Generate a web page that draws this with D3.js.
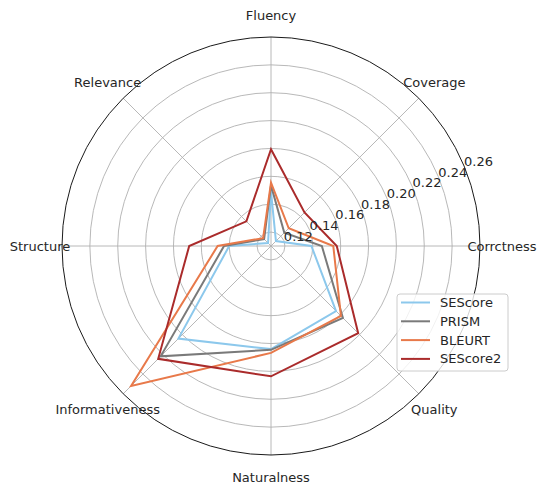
<!DOCTYPE html>
<html>
<head>
<meta charset="utf-8">
<script src="https://cdn.jsdelivr.net/npm/d3@7"></script>
<style>
  html, body { margin: 0; padding: 0; background: #fff; }
  svg { display: block; font-family: "DejaVu Sans", sans-serif; }
</style>
</head>
<body>
<div id="chart"></div>
<script>
(function () {
  'use strict';

  // Data
  var categories = ['Fluency', 'Coverage', 'Corrctness', 'Quality', 'Naturalness', 'Informativeness', 'Structure', 'Relevance'];
  var seriesNames = ['SEScore', 'PRISM', 'BLEURT', 'SEScore2'];
  var seScore  = [0.149, 0.115, 0.139, 0.176, 0.184, 0.204, 0.140, 0.113];
  var prism    = [0.1535, 0.1235, 0.1465, 0.183, 0.1845, 0.222, 0.1437, 0.117];
  var bleurt   = [0.1555, 0.128, 0.1547, 0.181, 0.1867, 0.252, 0.1483, 0.118];
  var seScore2 = [0.1795, 0.144, 0.1572, 0.1985, 0.2035, 0.2245, 0.1687, 0.135];
  var radialTicks = [0.12, 0.14, 0.16, 0.18, 0.20, 0.22, 0.24, 0.26];

  var seriesValues = [seScore, prism, bleurt, seScore2];
  var colors = ['#8cc8ec', '#7a7a7a', '#e8794a', '#aa2b2b'];

  var width = 540, height = 483;
  var cx = 271, cy = 246, R = 209;
  var fontSize = '13px';

  var svg = d3.select('#chart').append('svg')
    .attr('width', width)
    .attr('height', height);

  var g = svg.append('g').attr('transform', 'translate(' + cx + ',' + cy + ')');

  var r = d3.scaleLinear().domain([0.11, 0.26]).range([0, R]);
  var step = 2 * Math.PI / categories.length;
  function angle(i) { return i * step; } // 0 = top, clockwise

  // Grid circles (outer one is the spine)
  g.append('g').selectAll('circle')
    .data(radialTicks.slice(0, -1))
    .join('circle')
    .attr('r', function (d) { return r(d); })
    .attr('fill', 'none')
    .attr('stroke', '#b0b0b0')
    .attr('stroke-width', 0.9);

  // Spokes
  g.append('g').selectAll('line')
    .data(categories)
    .join('line')
    .attr('x1', 0).attr('y1', 0)
    .attr('x2', function (d, i) { return R * Math.sin(angle(i)); })
    .attr('y2', function (d, i) { return -R * Math.cos(angle(i)); })
    .attr('stroke', '#b0b0b0')
    .attr('stroke-width', 0.9);

  // Series polygons
  var line = d3.lineRadial()
    .angle(function (d, i) { return angle(i); })
    .radius(function (d) { return r(d); })
    .curve(d3.curveLinearClosed);

  g.append('g').selectAll('path')
    .data(seriesValues)
    .join('path')
    .attr('d', function (d) { return line(d); })
    .attr('fill', 'none')
    .attr('stroke', function (d, i) { return colors[i]; })
    .attr('stroke-width', 2)
    .attr('stroke-linejoin', 'miter');

  // Outer spine
  g.append('circle')
    .attr('r', R)
    .attr('fill', 'none')
    .attr('stroke', '#1a1a1a')
    .attr('stroke-width', 1);

  // Radial tick labels at 22.5 degrees above horizontal
  var labAng = 22.5 * Math.PI / 180;
  g.append('g').selectAll('text')
    .data(radialTicks)
    .join('text')
    .attr('x', function (d) { return r(d) * Math.cos(labAng); })
    .attr('y', function (d) { return -r(d) * Math.sin(labAng); })
    .attr('text-anchor', 'start')
    .attr('font-size', fontSize)
    .attr('fill', '#262626')
    .text(function (d) { return d.toFixed(2); });

  // Category labels
  var labR = 231;
  g.append('g').selectAll('text')
    .data(categories)
    .join('text')
    .attr('x', function (d, i) { return labR * Math.sin(angle(i)); })
    .attr('y', function (d, i) { return -labR * Math.cos(angle(i)); })
    .attr('text-anchor', 'middle')
    .attr('dominant-baseline', 'central')
    .attr('font-size', fontSize)
    .attr('fill', '#262626')
    .text(function (d) { return d; });

  // Legend
  var legend = svg.append('g').attr('transform', 'translate(397,294)');
  legend.append('rect')
    .attr('width', 111).attr('height', 77)
    .attr('rx', 3)
    .attr('fill', '#fff').attr('fill-opacity', 0.8)
    .attr('stroke', '#cccccc').attr('stroke-width', 1);

  var items = legend.selectAll('g.item')
    .data(seriesNames)
    .join('g')
    .attr('class', 'item')
    .attr('transform', function (d, i) { return 'translate(0,' + (8.5 + i * 18.8) + ')'; });

  items.append('line')
    .attr('x1', 4).attr('x2', 33)
    .attr('stroke', function (d, i) { return colors[i]; })
    .attr('stroke-width', 2);

  items.append('text')
    .attr('x', 43)
    .attr('dominant-baseline', 'central')
    .attr('font-size', fontSize)
    .attr('fill', '#262626')
    .text(function (d) { return d; });
})();
</script>
</body>
</html>
